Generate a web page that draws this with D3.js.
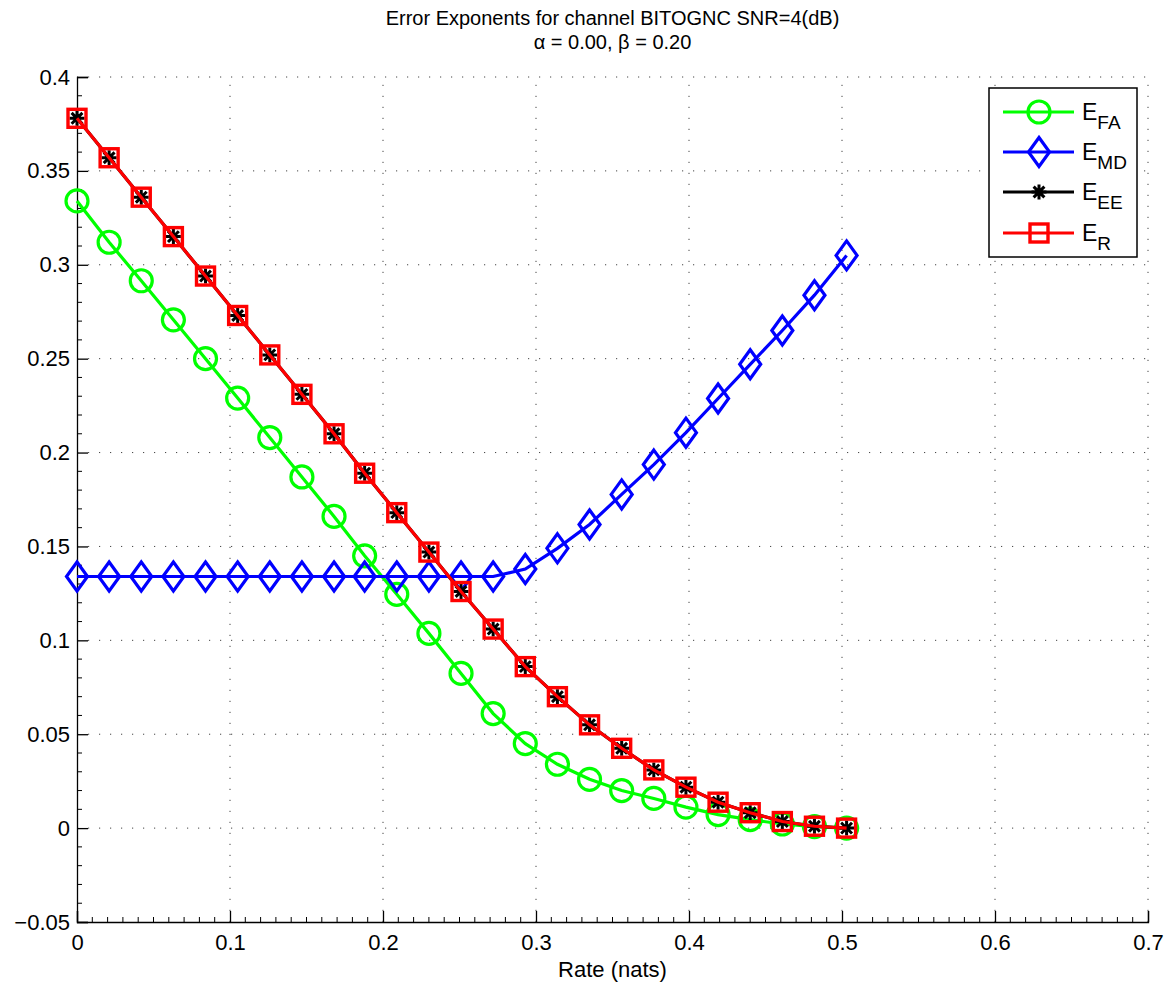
<!DOCTYPE html>
<html>
<head>
<meta charset="utf-8">
<script src="https://cdn.jsdelivr.net/npm/d3@7/dist/d3.min.js"></script>
<style>
body { margin: 0; background: #fff; }
text { font-family: "Liberation Sans", Arial, sans-serif; fill: #000; }
</style>
</head>
<body>
<script>
// values
var rate = [0, 0.021, 0.042, 0.063, 0.084, 0.105, 0.126, 0.147, 0.168, 0.188,
            0.209, 0.230, 0.251, 0.272, 0.293, 0.314, 0.335, 0.356, 0.377, 0.398,
            0.419, 0.440, 0.461, 0.482, 0.503];
var eFA = [0.334, 0.312, 0.2915, 0.2707, 0.250, 0.229, 0.208, 0.187, 0.166, 0.145,
           0.1245, 0.1037, 0.0824, 0.061, 0.045, 0.034, 0.026, 0.020, 0.0158, 0.0112,
           0.0072, 0.0045, 0.0022, 0.0008, 0];
var eMD = [0.134, 0.134, 0.134, 0.134, 0.134, 0.134, 0.134, 0.134, 0.134, 0.134,
           0.134, 0.134, 0.134, 0.134, 0.138, 0.149, 0.1617, 0.1777, 0.1936, 0.2106,
           0.2288, 0.247, 0.265, 0.2838, 0.305];
var eEE = [0.378, 0.357, 0.336, 0.315, 0.294, 0.273, 0.252, 0.231, 0.210, 0.189,
           0.168, 0.147, 0.126, 0.106, 0.086, 0.070, 0.055, 0.0425, 0.031, 0.0218,
           0.0138, 0.0082, 0.0035, 0.001, 0];
var eR  = [0.378, 0.357, 0.336, 0.315, 0.294, 0.273, 0.252, 0.231, 0.210, 0.189,
           0.168, 0.147, 0.126, 0.106, 0.086, 0.070, 0.055, 0.0425, 0.031, 0.0218,
           0.0138, 0.0082, 0.0035, 0.001, 0];
var xTicks = [0, 0.1, 0.2, 0.3, 0.4, 0.5, 0.6, 0.7];
var yTicks = [-0.05, 0, 0.05, 0.1, 0.15, 0.2, 0.25, 0.3, 0.35, 0.4];
var seriesNames = ["FA", "MD", "EE", "R"];

var width = 1167,
    height = 984,
    margin = {top: 77, right: 19, bottom: 62, left: 77};

var svg = d3.select("body").append("svg")
    .attr("width", width)
    .attr("height", height);

var x = d3.scaleLinear().domain([0, 0.7]).range([margin.left, width - margin.right]);
var y = d3.scaleLinear().domain([-0.05, 0.4]).range([height - margin.bottom, margin.top]);

// dotted grid
var grid = svg.append("g").attr("stroke", "#444").attr("stroke-width", 1)
    .attr("stroke-dasharray", "1.2,9.8");
grid.selectAll(".gx").data(xTicks.slice(1)).enter().append("line")
    .attr("x1", d => x(d)).attr("x2", d => x(d))
    .attr("y1", y(-0.05)).attr("y2", y(0.4));
grid.selectAll(".gy").data(yTicks.slice(1)).enter().append("line")
    .attr("x1", x(0)).attr("x2", x(0.7))
    .attr("y1", d => y(d)).attr("y2", d => y(d));

// axes with inward ticks
var fmtY = d => (d < 0 ? "\u2212" : "") + d3.format("")(Math.abs(d));
var yAxis = d3.axisLeft(y).tickValues(yTicks).tickSize(-11).tickPadding(7).tickFormat(fmtY);
var xAxis = d3.axisBottom(x).tickValues(xTicks).tickSize(-11).tickPadding(12).tickFormat(d3.format(""));

var gy = svg.append("g").attr("transform", "translate(" + margin.left + ",0)").call(yAxis);
var gx = svg.append("g").attr("transform", "translate(0," + (height - margin.bottom) + ")").call(xAxis);
[gx, gy].forEach(function(g) {
  g.select(".domain").attr("stroke", "#000").attr("stroke-width", 1.3);
  g.selectAll(".tick line").attr("stroke", "#000").attr("stroke-width", 1.3);
  g.selectAll("text").attr("font-size", 22).attr("font-family", "Liberation Sans, Arial, sans-serif");
});

// minor ticks
var minorX = d3.range(1, 70).map(i => i / 100).filter(v => Math.round(v * 100) % 10 != 0);
var minorY = d3.range(-4, 40).map(i => i / 100).filter(v => Math.round(v * 100) % 5 != 0);
svg.append("g").selectAll("line").data(minorX).enter().append("line")
    .attr("x1", d => x(d)).attr("x2", d => x(d))
    .attr("y1", y(-0.05)).attr("y2", y(-0.05) - 5)
    .attr("stroke", "#000").attr("stroke-width", 1);
svg.append("g").selectAll("line").data(minorY).enter().append("line")
    .attr("x1", x(0)).attr("x2", x(0) + 5)
    .attr("y1", d => y(d)).attr("y2", d => y(d))
    .attr("stroke", "#000").attr("stroke-width", 1);

// markers
function circleM(g, cx, cy, c) {
  g.append("circle").attr("cx", cx).attr("cy", cy).attr("r", 11)
    .attr("fill", "none").attr("stroke", c).attr("stroke-width", 3.2);
}
function diamondM(g, cx, cy, c) {
  g.append("path").attr("d", "M" + cx + "," + (cy - 14.5) + "L" + (cx + 10.5) + "," + cy +
      "L" + cx + "," + (cy + 14.5) + "L" + (cx - 10.5) + "," + cy + "Z")
    .attr("fill", "none").attr("stroke", c).attr("stroke-width", 3.2);
}
function starM(g, cx, cy, c) {
  var r = 7.5, p = "";
  [[1, 0], [0, 1], [0.72, 0.72], [0.72, -0.72]].forEach(function(v) {
    p += "M" + (cx - v[0] * r) + "," + (cy - v[1] * r) + "L" + (cx + v[0] * r) + "," + (cy + v[1] * r);
  });
  g.append("path").attr("d", p).attr("stroke", c).attr("stroke-width", 3).attr("fill", "none");
}
function squareM(g, cx, cy, c) {
  g.append("rect").attr("x", cx - 9).attr("y", cy - 9).attr("width", 18).attr("height", 18)
    .attr("fill", "none").attr("stroke", c).attr("stroke-width", 3.4);
}

var series = [
  {vals: eFA, color: "#00ff00", marker: circleM},
  {vals: eMD, color: "#0000ff", marker: diamondM},
  {vals: eEE, color: "#000000", marker: starM},
  {vals: eR,  color: "#ff0000", marker: squareM}
];

var line = d3.line().x((d, i) => x(rate[i])).y(d => y(d));

series.forEach(function(s) {
  var g = svg.append("g");
  g.append("path").datum(s.vals).attr("d", line)
    .attr("fill", "none").attr("stroke", s.color).attr("stroke-width", 3.2);
  s.vals.forEach(function(v, i) { s.marker(g, x(rate[i]), y(v), s.color); });
});

// title
svg.append("text").attr("x", x(0.35)).attr("y", 25).attr("text-anchor", "middle")
    .attr("font-size", 20).text("Error Exponents for channel BITOGNC SNR=4(dB)");
svg.append("text").attr("x", x(0.35)).attr("y", 49).attr("text-anchor", "middle")
    .attr("font-size", 20).text("\u03b1 = 0.00, \u03b2 = 0.20");

// x label
svg.append("text").attr("x", x(0.35)).attr("y", 977).attr("text-anchor", "middle")
    .attr("font-size", 22).text("Rate (nats)");

// legend
var lg = svg.append("g");
lg.append("rect").attr("x", 989).attr("y", 88).attr("width", 148).attr("height", 169)
    .attr("fill", "#fff").attr("stroke", "#000").attr("stroke-width", 1.5);
var legY = [112, 152, 192, 233];
series.forEach(function(s, i) {
  var ly = legY[i];
  lg.append("line").attr("x1", 1003).attr("x2", 1074).attr("y1", ly).attr("y2", ly)
    .attr("stroke", s.color).attr("stroke-width", 3.2);
  s.marker(lg, 1039, ly, s.color);
  var t = lg.append("text").attr("x", 1082).attr("y", ly + 8).attr("font-size", 23);
  t.append("tspan").text("E");
  t.append("tspan").attr("dy", 9).attr("font-size", 19).text(seriesNames[i]);
});
</script>
</body>
</html>
